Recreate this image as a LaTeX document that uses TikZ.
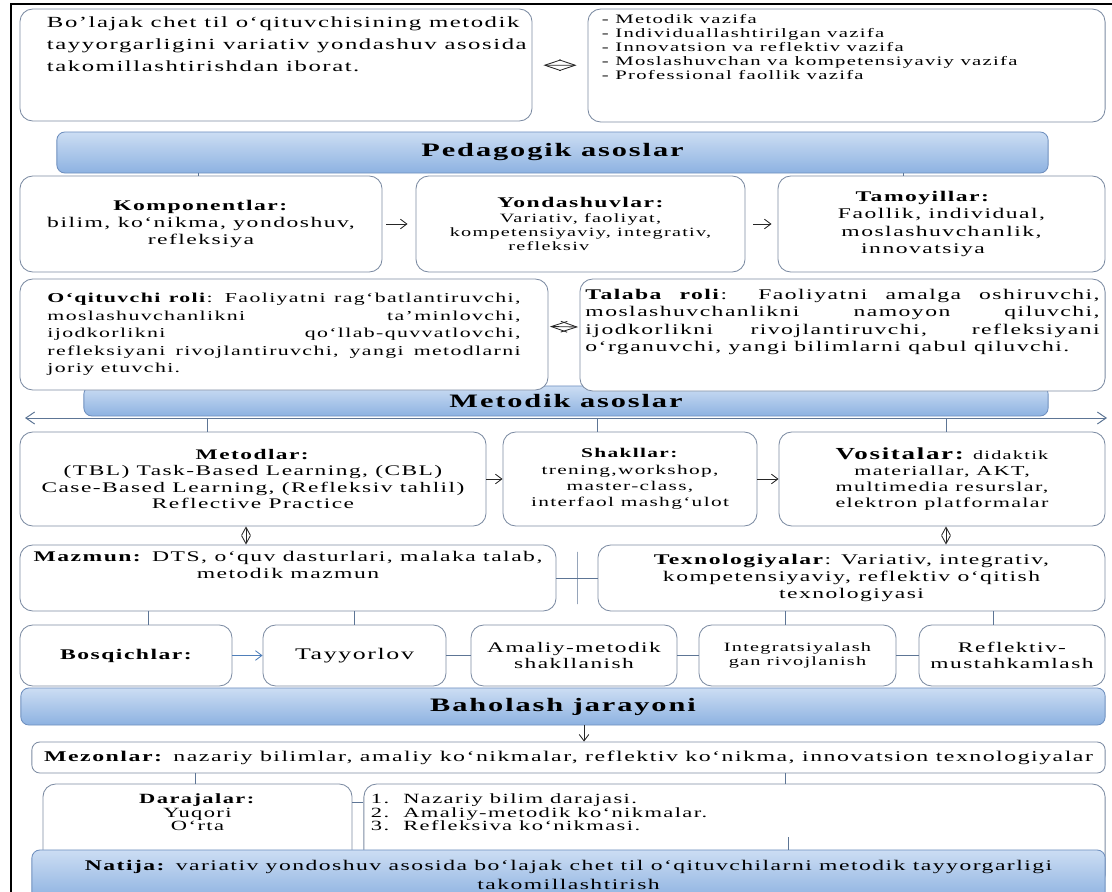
\documentclass[tikz,border=0pt]{standalone}
\usepackage{fontspec}
\setmainfont{Liberation Serif}[FakeStretch=1.6,LetterSpace=10]
\usetikzlibrary{arrows.meta,calc}

\definecolor{boxline}{HTML}{7D8CA3}
\definecolor{connline}{HTML}{5D7595}
\definecolor{bartop}{HTML}{CCDDF3}
\definecolor{barbottom}{HTML}{8DB2E1}
\definecolor{barline}{HTML}{6E8FBE}
\definecolor{stepblue}{HTML}{4F7FBA}

\newcommand{\fbody}{\fontsize{10.5}{12.4}\selectfont}
\newcommand{\fsmall}{\fontsize{9}{10}\selectfont}
\newcommand{\fgoal}{\fontsize{11}{15.5}\selectfont}
\newcommand{\ftask}{\fontsize{9.2}{10}\selectfont}
\newcommand{\fbar}{\fontsize{13.5}{15}\selectfont\bfseries}
\newcommand{\foqit}{\fontsize{9.7}{12.4}\selectfont}
\newcommand{\fmeth}{\fontsize{10.4}{11.4}\selectfont}
\newcommand{\fmezon}{\fontsize{10.6}{12}\selectfont}
\newcommand{\flist}{\fontsize{10}{9.6}\selectfont}
\newcommand{\fnat}{\fontsize{10.5}{13.5}\selectfont}

\tikzset{%
  >={Straight Barb[length=1.6mm,width=2.4mm]},
  % boxes and bars
       box/.style = {rectangle, rounded corners=3.2mm, draw=boxline, line width=0.6pt,
                     fill=white, align=center, inner sep=2pt, font=\fbody},
       bar/.style = {rectangle, rounded corners=2mm, draw=barline, line width=0.6pt,
                     top color=bartop, bottom color=barbottom, font=\fbar},
  % connectors
      conn/.style = {draw=connline, line width=0.7pt},
      flow/.style = {->, draw=black!85, line width=0.6pt},
       dbl/.style = {{Straight Barb[length=2.2mm,width=3mm]}-{Straight Barb[length=2.2mm,width=3mm]}, conn},
      lens/.style = {{Straight Barb[length=4mm,width=2.7mm]}-{Straight Barb[length=4mm,width=2.7mm]},
                     draw=black!85, line width=0.6pt},
       phi/.style = {{Straight Barb[length=2mm,width=2.2mm]}-{Straight Barb[length=2mm,width=2.2mm]},
                     draw=black!85, line width=0.6pt},
   tickbar/.style = {draw=connline, line width=0.7pt, minimum width=0pt,
                     minimum height=1.3cm, inner sep=0pt},
}

\begin{document}
\begin{tikzpicture}[x=0.025cm, y=-0.025cm]
  \useasboundingbox (0,0) rectangle (1112,892);
  \draw[line width=1.3pt] (11,4) rectangle (1125,905);

  % goal and tasks
  \node (goal)      [box, minimum width=12.8cm, minimum height=2.8cm] at (276,65) {};
  \node (goaltext)  [anchor=north west, align=left, font=\fgoal] at (42,12)
        {Bo’lajak chet til o‘qituvchisining metodik\\ tayyorgarligini variativ yondashuv asosida\\ takomillashtirishdan iborat.};
  \node (tasks)     [box, minimum width=12.925cm, minimum height=2.825cm] at (846.5,65.5) {};
  \node (taskstext) [anchor=north west, align=left, font=\ftask] at (597,9)
        {- Metodik vazifa\\ - Individuallashtirilgan vazifa\\ - Innovatsion va reflektiv vazifa\\
         - Moslashuvchan va kompetensiyaviy vazifa\\ - Professional faollik vazifa};
  \draw[lens, shorten <=0.275cm, shorten >=0.275cm] (goal) -- (tasks);

  \node (ped) [bar, minimum width=24.775cm, minimum height=1.025cm] at (552.5,152.5) {Pedagogik asoslar};

  % components, approaches, principles
  \node (komp)  [box, minimum width=9.05cm,  minimum height=2.4cm] at (201,224)
        {\textbf{Komponentlar:}\\ bilim, ko‘nikma, yondoshuv,\\ refleksiya};
  \node (yond)  [box, minimum width=8.225cm, minimum height=2.4cm, font=\fsmall] at (580.5,224)
        {{\fbody\bfseries Yondashuvlar:}\\ Variativ, faoliyat,\\ kompetensiyaviy, integrativ,\\ refleksiv\hspace*{5em}};
  \node (tamoy) [box, minimum width=8.175cm, minimum height=2.4cm] at (941.5,224)
        {\textbf{Tamoyillar:}\hspace*{2.5em}\\ Faollik, individual,\hspace*{2.5em}\\ moslashuvchanlik,\hspace*{2.5em}\\ innovatsiya\hspace*{2.5em}};

  \coordinate (p1) at (198,173);
  \coordinate (p2) at (903,173);
  \draw[conn] (p1) -- (p1 |- komp.north);
  \draw[conn] (p2) -- (p2 |- tamoy.north);
  \draw[flow, shorten <=1mm, shorten >=2mm] (komp) -- (yond);
  \draw[flow, shorten <=2mm, shorten >=1.5mm] (yond) -- (tamoy);

  % roles
  \node (met) [bar, minimum width=24.1cm, minimum height=0.75cm] at (566,401) {Metodik asoslar};
  \node (oqit)   [box, minimum width=13.2cm, minimum height=2.775cm, text width=11.825cm,
                  align=justify, font=\foqit] at (284,334.5)
        {\textbf{O‘qituvchi roli}: Faoliyatni rag‘batlantiruvchi,\linebreak moslashuvchanlikni ta’minlovchi,\linebreak
         ijodkorlikni qo‘llab-quvvatlovchi,\linebreak refleksiyani rivojlantiruvchi, yangi metodlarni\linebreak joriy etuvchi.};
  \node (talaba) [box, minimum width=13.125cm, minimum height=2.8cm, text width=12.85cm,
                  align=justify] at (842.5,335)
        {\textbf{Talaba roli}: Faoliyatni amalga oshiruvchi,\linebreak moslashuvchanlikni namoyon qiluvchi,\linebreak
         ijodkorlikni rivojlantiruvchi, refleksiyani\linebreak o‘rganuvchi, yangi bilimlarni qabul qiluvchi.\\[3mm]};
  \draw[lens, shorten <=1pt, shorten >=1pt] ($(oqit.east)+(0,-8)$) -- ($(talaba.west)+(0,-8)$);

  % methods, forms, tools
  \coordinate (mL) at (25,418);
  \coordinate (mR) at (1107,418);
  \draw[dbl] (mL) -- (mR);

  \node (metodlar) [box, minimum width=11.65cm, minimum height=2.35cm, font=\fmeth] at (253,479)
        {\textbf{Metodlar:}\\ (TBL) Task-Based Learning, (CBL)\\ Case-Based Learning, (Refleksiv tahlil)\\ Reflective Practice};
  \node (shakl)    [box, minimum width=6.35cm, minimum height=2.35cm, font=\fontsize{9.5}{11.5}\selectfont] at (630,479)
        {\textbf{Shakllar:}\\ trening,workshop,\\ master-class,\\ interfaol mashg‘ulot};
  \node (vosit)    [box, minimum width=8.15cm, minimum height=2.35cm, font=\fontsize{9.8}{11.5}\selectfont] at (942,479)
        {{\fontsize{12}{13}\selectfont\bfseries Vositalar:} {\fsmall didaktik}\\ materiallar, AKT,\\ multimedia resurslar,\\ elektron platformalar};

  \coordinate (t1) at (207,418);
  \coordinate (t2) at (597,418);
  \coordinate (t3) at (946,418);
  \draw[conn] (t1) -- (t1 |- metodlar.north);
  \draw[conn] (t2) -- (t2 |- shakl.north);
  \draw[conn] (t3) -- (t3 |- vosit.north);
  \draw[flow] (metodlar) -- (shakl);
  \draw[flow] (shakl) -- (vosit);

  % content and technologies
  \node (mazmun)     [box, minimum width=13.4cm, minimum height=1.65cm] at (288,578) {};
  \node (mazmuntext) [align=center, font=\fbody] at (288,565)
        {\textbf{Mazmun:} DTS, o‘quv dasturlari, malaka talab,\\ metodik mazmun};
  \node (texno)      [box, minimum width=12.675cm, minimum height=1.65cm] at (851.5,578)
        {\textbf{Texnologiyalar}: Variativ, integrativ,\\ kompetensiyaviy, reflektiv o‘qitish\\ texnologiyasi};
  \draw[conn] (mazmun) -- node[tickbar] {} (texno);

  \coordinate (phiA) at (246,536);
  \coordinate (phiB) at (946,536);
  \draw[phi] (phiA |- metodlar.south) -- (phiA |- mazmun.north);
  \draw[phi] (phiB |- vosit.south) -- (phiB |- texno.north);

  % stages
  \node (bosq)   [box, minimum width=5.3cm,   minimum height=1.525cm, font=\fbody\bfseries] at (126,655.5) {Bosqichlar:};
  \node (tayyor) [box, minimum width=4.575cm, minimum height=1.525cm, font=\fontsize{11.5}{13}\selectfont] at (354.5,655.5) {Tayyorlov};
  \node (amaliy) [box, minimum width=5.15cm,  minimum height=1.525cm, font=\fmeth] at (574,655.5) {Amaliy-metodik\\ shakllanish};
  \node (integ)  [box, minimum width=4.925cm, minimum height=1.525cm, font=\fsmall] at (797.5,655.5) {Integratsiyalash\\ gan rivojlanish};
  \node (reflek) [box, minimum width=4.65cm,  minimum height=1.525cm, font=\fmeth] at (1012,655.5) {Reflektiv-\\ mustahkamlash};

  \coordinate (d1) at (148,618);
  \coordinate (d2) at (354,618);
  \coordinate (d3) at (785,618);
  \coordinate (d4) at (993,618);
  \draw[conn] (d1 |- mazmun.south) -- (d1 |- bosq.north);
  \draw[conn] (d2 |- mazmun.south) -- (d2 |- tayyor.north);
  \draw[conn] (d3 |- texno.south) -- (d3 |- integ.north);
  \draw[conn] (d4 |- texno.south) -- (d4 |- reflek.north);
  \draw[flow, draw=stepblue] (bosq) -- (tayyor);
  \draw[conn] (tayyor) -- (amaliy);
  \draw[conn] (amaliy) -- (integ);
  \draw[conn] (integ) -- (reflek);

  % evaluation
  \node (bah)   [bar, minimum width=27.1cm, minimum height=0.925cm] at (563,706.5) {Baholash jarayoni};
  \node (mezon) [box, rounded corners=2mm, minimum width=26.825cm, minimum height=0.775cm, font=\fmezon] at (568.5,757.5)
        {\textbf{Mezonlar:} nazariy bilimlar, amaliy ko‘nikmalar, reflektiv ko‘nikma, innovatsion texnologiyalar};
  \coordinate (b1) at (584,730);
  \draw[flow] (b1 |- bah.south) -- (b1 |- mezon.north);

  \node (daraj)     [box, minimum width=7.725cm, minimum height=2.6cm] at (197.5,836) {};
  \node (darajtext) [align=center, anchor=north, font=\flist] at (197.5,789)
        {\textbf{Darajalar:}\\ Yuqori\\ O‘rta};
  \node (list)      [box, minimum width=18.525cm, minimum height=2.6cm] at (734.5,836) {};
  \node (listtext)  [align=left, anchor=north west, font=\flist] at (366,789)
        {1.\ \ Nazariy bilim darajasi.\\ 2.\ \ Amaliy-metodik ko‘nikmalar.\\ 3.\ \ Refleksiva ko‘nikmasi.};
  \coordinate (z1) at (195,778);
  \coordinate (z2) at (785,778);
  \coordinate (z3) at (788,837);
  \draw[conn] (z1 |- mezon.south) -- (z1 |- daraj.north);
  \draw[conn] (z2 |- mezon.south) -- (z2 |- list.north);
  \draw[conn] ($(daraj.north east)+(0,19)$) -- ($(list.north west)+(0,19)$);

  \node (natija) [bar, minimum width=26.825cm, minimum height=1.25cm, align=center, font=\fnat] at (568.5,875)
        {\textbf{Natija:} variativ yondoshuv asosida bo‘lajak chet til o‘qituvchilarni metodik tayyorgarligi\\ takomillashtirish};
  \draw[conn] (z3) -- (z3 |- natija.north);
\end{tikzpicture}
\end{document}
